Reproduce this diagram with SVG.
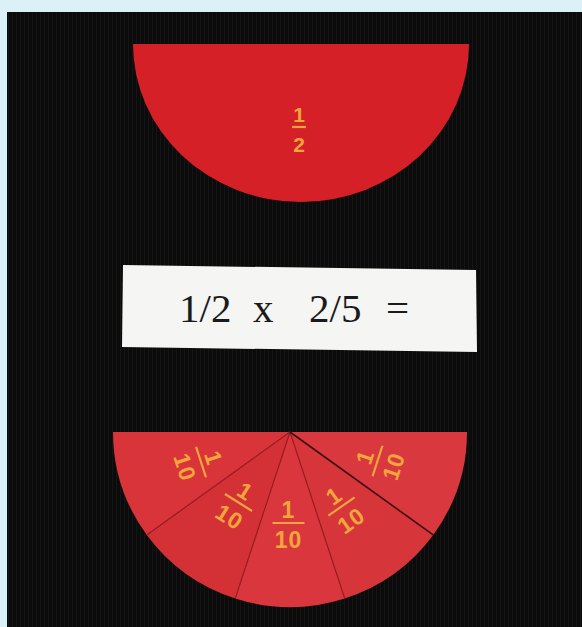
<svg xmlns="http://www.w3.org/2000/svg" width="582" height="627" viewBox="0 0 582 627">
  <style>
    .frac { font-family: "Liberation Sans", Arial, sans-serif; font-weight: bold; fill: #f2a53a; text-anchor: middle; }
    .bar { stroke: #f2a53a; stroke-width: 2.2; }
    .eq { font-family: "Liberation Serif", "Times New Roman", serif; font-size: 41px; fill: #1a1a1a; }
    .cut { stroke: #9a1c22; stroke-width: 1.2; fill: none; }
  </style>
  <defs>
    <pattern id="fabric" width="4" height="6" patternUnits="userSpaceOnUse">
      <rect width="4" height="6" fill="#0b0b0b"/>
      <rect x="0" width="1" height="6" fill="#151515"/>
    </pattern>
    <g id="f10">
      <text class="frac" x="0" y="-5" font-size="23" letter-spacing="1">1</text>
      <line class="bar" x1="-16" y1="0" x2="16" y2="0"/>
      <text class="frac" x="0" y="25" font-size="23" letter-spacing="1">10</text>
    </g>
  </defs>

  <!-- frame -->
  <rect width="582" height="627" fill="#dcf0f8"/>
  <rect x="7" y="12" width="575" height="615" fill="url(#fabric)"/>

  <!-- top half disc -->
  <g id="half">
    <path d="M133,44 H469 A168,158 0 0 1 133,44 Z" fill="#d62027"/>
    <text class="frac" x="299" y="122" font-size="21">1</text>
    <line class="bar" x1="292" y1="127" x2="306" y2="127"/>
    <text class="frac" x="299" y="152" font-size="21">2</text>
  </g>

  <!-- equation card -->
  <g id="card">
    <polygon points="123,265 476,270 477,352 122,347" fill="#f5f5f3"/>
    <text class="eq" x="179" y="322">1/2</text>
    <text class="eq" x="253" y="322">x</text>
    <text class="eq" x="309" y="322">2/5</text>
    <text class="eq" x="386" y="322">=</text>
  </g>

  <!-- tenths pieces -->
  <g id="piece1">
    <path d="M290,432 L113,432 A177,175 0 0 0 146.8,534.9 Z" fill="#d8343a"/>
    <use href="#f10" transform="translate(201,462) rotate(72)"/>
  </g>
  <g id="piece2">
    <path d="M290,432 L146.8,534.9 A177,175 0 0 0 235.3,598.4 Z" fill="#d43137"/>
    <use href="#f10" transform="translate(238.5,502.5) rotate(32)"/>
  </g>
  <g id="piece3">
    <path d="M290,432 L235.3,598.4 A177,175 0 0 0 344.7,598.4 Z" fill="#d9373d"/>
    <use href="#f10" transform="translate(288.5,523)"/>
  </g>
  <g id="piece4">
    <path d="M290,432 L344.7,598.4 A177,175 0 0 0 433.2,534.9 Z" fill="#d6353a"/>
    <use href="#f10" transform="translate(341.5,506.5) rotate(-35)"/>
  </g>
  <g id="piece5">
    <path d="M290,432 L433.2,534.9 A177,175 0 0 0 467,432 Z" fill="#d9393e"/>
    <use href="#f10" transform="translate(377.5,461) rotate(-72)"/>
  </g>

  <g id="cuts">
    <line class="cut" x1="290" y1="432" x2="146.8" y2="534.9"/>
    <line class="cut" x1="290" y1="432" x2="235.3" y2="598.4"/>
    <line class="cut" x1="290" y1="432" x2="344.7" y2="598.4"/>
    <line x1="290" y1="432" x2="433.2" y2="534.9" stroke="#3a0c0e" stroke-width="1.6"/>
  </g>
</svg>
